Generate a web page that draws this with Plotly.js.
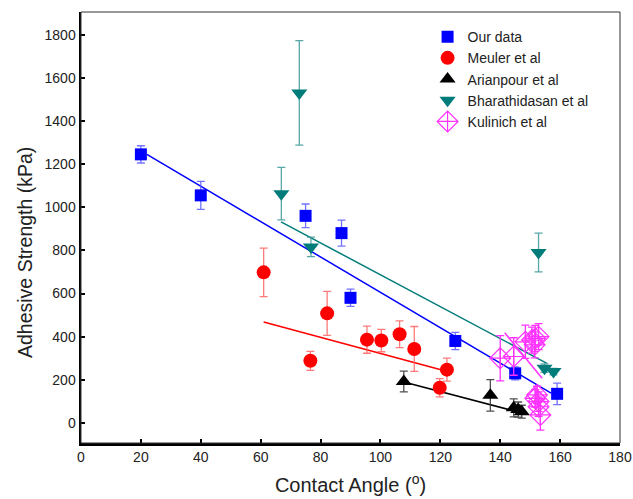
<!DOCTYPE html>
<html>
<head>
<meta charset="utf-8">
<script src="https://cdn.plot.ly/plotly-3.0.1.min.js"></script>
<style>html,body{margin:0;padding:0;background:#fff;}#chart{width:633px;height:499px;}</style>
</head>
<body>
<div id="chart"></div>
<script>
// ---- Data ----
const seriesNames = ["Our data", "Meuler et al", "Arianpour et al", "Bharathidasan et al", "Kulinich et al"];

const ourX   = [20, 40, 75, 87, 90, 125, 145, 159];
const ourY   = [1245, 1055, 960, 880, 580, 380, 230, 135];
const ourErr = [40, 65, 55, 60, 40, 40, 30, 50];

const meulerX   = [61, 76.6, 82.2, 95.5, 100.3, 106.4, 111.3, 122.2, 119.8];
const meulerY   = [698, 288, 508, 386, 382, 411, 343, 247, 163];
const meulerErr = [112, 44, 102, 63, 52, 62, 104, 53, 42];

const arianX   = [107.8, 136.7, 144.5, 146, 147.2];
const arianY   = [192, 128, 70, 62, 52];
const arianErr = [48, 73, 42, 35, 30];

const bharX   = [66.9, 72.9, 76.8, 152.8, 154.8, 157.8];
const bharY   = [1063, 1530, 816, 790, 254, 238];
const bharErr = [122, 242, 45, 90, 20, 15];

const kuliX   = [140.0, 144.5, 148.4, 150.6, 151.7, 152.8, 151.5, 152.3, 151.7, 152.8, 152.8, 153.4];
const kuliY   = [300, 308, 376, 384, 392, 400, 362, 130, 114, 99, 75, 37];
const kuliErr = [105, 87, 77, 60, 60, 60, 60, 40, 40, 45, 45, 70];

// fitted lines (end points)
const fitOurX  = [22, 157];     const fitOurY  = [1245, 138];
const fitMeuX  = [61, 120.5];   const fitMeuY  = [468, 245];
const fitAriX  = [109.4, 144];  const fitAriY  = [184, 58];
const fitBhaX  = [66.8, 155.6]; const fitBhaY  = [932, 276];
const fitKulX  = [141.5, 154];  const fitKulY  = [418, 207];

const xTicks = [0, 20, 40, 60, 80, 100, 120, 140, 160, 180];
const yTicks = [0, 200, 400, 600, 800, 1000, 1200, 1400, 1600, 1800];

const xTitle = "Contact Angle (<sup>o</sup>)";
const yTitle = "Adhesive Strength (kPa)";

// ---- Styling ----
const FONT = "Liberation Sans, Arial, sans-serif";
const cBlue = "#0000ff", cRed = "#ff0000", cBlack = "#000000", cTeal = "#007c7a", cMag = "#ff33ff";

function pts(x, y, err, name, symbol, color, errColor, size) {
  return {
    type: "scatter", mode: "markers", x: x, y: y, name: name,
    marker: {symbol: symbol, color: color, size: size,
             line: {color: color, width: symbol.indexOf("open") >= 0 ? 1.2 : 0}},
    error_y: {type: "data", array: err, visible: true, color: errColor, thickness: 1.3, width: 4}
  };
}
function fit(x, y, color) {
  return {type: "scatter", mode: "lines", x: x, y: y, showlegend: false, hoverinfo: "skip",
          line: {color: color, width: 1.5}};
}

const data = [
  fit(fitOurX, fitOurY, cBlue),
  fit(fitMeuX, fitMeuY, cRed),
  fit(fitAriX, fitAriY, cBlack),
  fit(fitBhaX, fitBhaY, cTeal),
  fit(fitKulX, fitKulY, cMag),
  pts(ourX, ourY, ourErr, seriesNames[0], "square", cBlue, "rgba(90,90,255,0.85)", 12),
  pts(meulerX, meulerY, meulerErr, seriesNames[1], "circle", cRed, "rgba(255,100,100,0.85)", 14),
  pts(arianX, arianY, arianErr, seriesNames[2], "triangle-up", cBlack, "rgba(60,60,60,0.9)", 14),
  pts(bharX, bharY, bharErr, seriesNames[3], "triangle-down", cTeal, "rgba(60,150,150,0.85)", 14),
  pts(kuliX, kuliY, kuliErr, seriesNames[4], "diamond-cross-open", cMag, cMag, 16)
];

const axisCommon = {
  showgrid: false, zeroline: false, showline: true, linecolor: "#000", linewidth: 2.5,
  ticks: "inside", ticklen: 4, tickwidth: 2, tickcolor: "#000",
  tickfont: {family: FONT, size: 14, color: "#222"}
};

const layout = {
  width: 633, height: 499,
  margin: {l: 81, r: 13, t: 12, b: 56},
  paper_bgcolor: "#fff", plot_bgcolor: "#fff",
  font: {family: FONT},
  showlegend: true,
  legend: {x: 0.643, y: 0.979, xanchor: "left", yanchor: "top", bgcolor: "rgba(0,0,0,0)",
           font: {family: FONT, size: 14, color: "#222"}, tracegroupgap: 0, itemsizing: "trace"},
  xaxis: Object.assign({}, axisCommon, {
    range: [0, 180], tickvals: xTicks, ticktext: xTicks.map(String),
    title: {text: xTitle, font: {family: FONT, size: 20, color: "#222"}, standoff: 14}
  }),
  yaxis: Object.assign({}, axisCommon, {
    range: [-93, 1905], tickvals: yTicks, ticktext: yTicks.map(String)
  }),
  annotations: [{
    text: yTitle, xref: "paper", yref: "paper", x: -0.104, y: 0.443,
    xanchor: "center", yanchor: "middle", textangle: -90, showarrow: false,
    font: {family: FONT, size: 19.5, color: "#222"}
  }],
  shapes: [{type: "rect", xref: "paper", yref: "paper", x0: 0, x1: 1, y0: 0, y1: 1,
            line: {color: "#333", width: 1}, layer: "above"}]
};

Plotly.newPlot("chart", data, layout, {staticPlot: true, displayModeBar: false});
</script>
</body>
</html>
